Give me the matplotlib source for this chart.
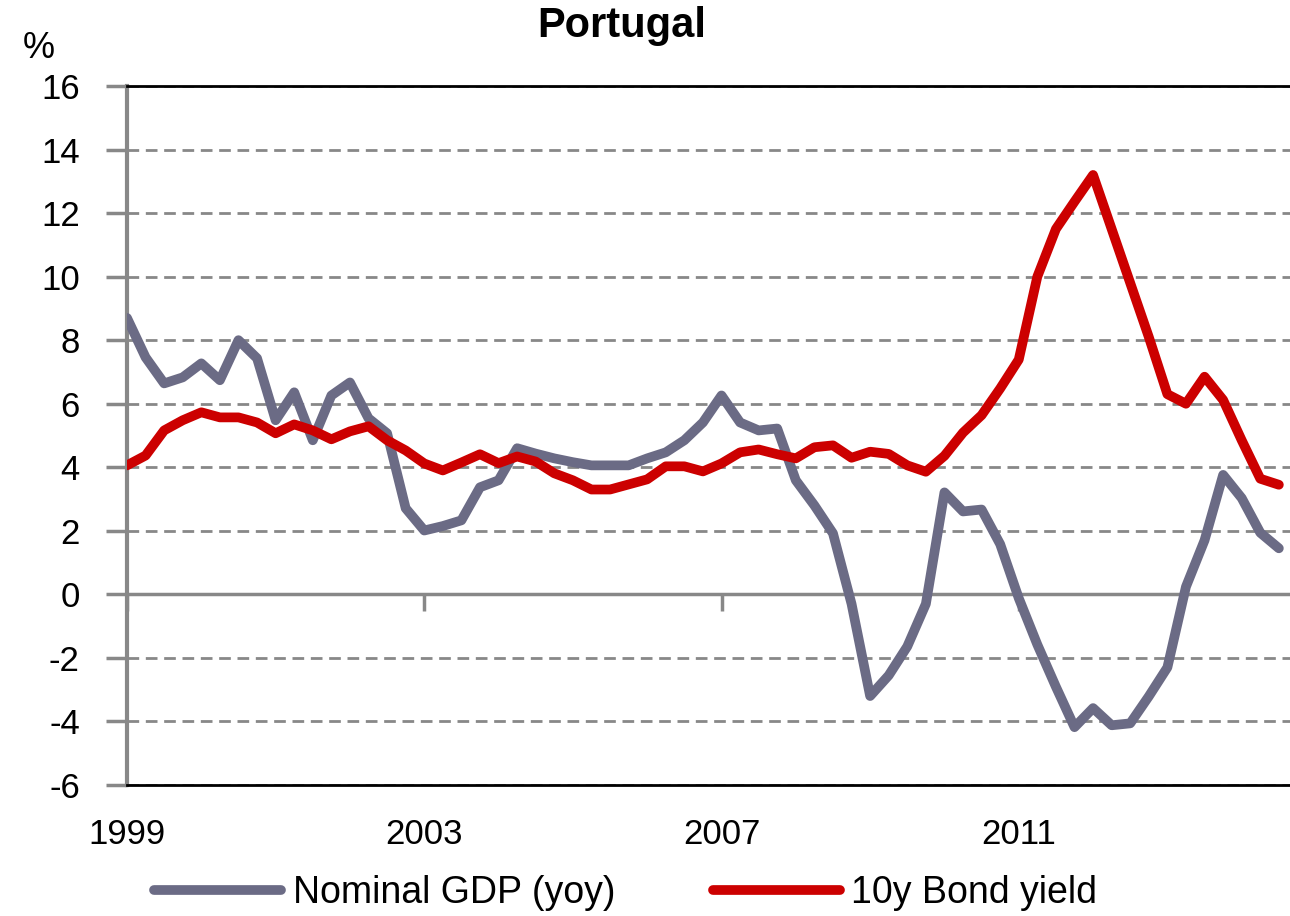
import matplotlib
matplotlib.use("Agg")
from matplotlib import pyplot as plt

# quarterly data, 1999Q1 .. 2014Q3
gdp_yoy = [8.7, 7.46, 6.64, 6.83, 7.27, 6.74, 8.0, 7.43, 5.48, 6.36,
           4.85, 6.26, 6.67, 5.54, 5.07, 2.71, 2.01, 2.15, 2.33, 3.37,
           3.59, 4.6, 4.43, 4.28, 4.16, 4.06, 4.06, 4.06, 4.28, 4.47,
           4.85, 5.41, 6.26, 5.41, 5.16, 5.22, 3.59, 2.8, 1.92, -0.3,
           -3.2, -2.55, -1.64, -0.3, 3.21, 2.61, 2.67, 1.58, -0.12, -1.58,
           -2.91, -4.18, -3.58, -4.12, -4.06, -3.21, -2.3, 0.24, 1.7, 3.76,
           3.03, 1.94, 1.45]
bond_10y = [4.06, 4.37, 5.16, 5.48, 5.73, 5.57, 5.57, 5.41, 5.07, 5.35,
            5.16, 4.88, 5.13, 5.29, 4.85, 4.53, 4.12, 3.9, 4.15, 4.41,
            4.13, 4.34, 4.18, 3.81, 3.59, 3.3, 3.3, 3.46, 3.62, 4.03,
            4.03, 3.87, 4.12, 4.47, 4.56, 4.41, 4.28, 4.63, 4.69, 4.3,
            4.49, 4.42, 4.06, 3.86, 4.36, 5.09, 5.64, 6.48, 7.39, 10.0,
            11.5, 12.36, 13.2, 11.5, 9.8, 8.1, 6.3, 6.0, 6.85, 6.12,
            4.85, 3.64, 3.45]
year_ticks = [0, 16, 32, 48]
year_labels = ['1999', '2003', '2007', '2011']

plt.rcParams['font.family'] = ['Liberation Sans', 'DejaVu Sans']
plt.rcParams['axes.unicode_minus'] = False

gray_line = '#6b6b85'
red_line = '#cc0000'
axis_gray = '#888888'

fig = plt.figure(figsize=(12.9, 9.16), dpi=100)
ax = fig.add_axes([127/1290, 1 - 785/916, 1 - 127/1290, (785 - 86)/916])

q = list(range(len(gdp_yoy)))
ax.plot(q, gdp_yoy, color=gray_line, lw=7, solid_joinstyle='round',
        solid_capstyle='round', label='Nominal GDP (yoy)', zorder=3)
ax.plot(q, bond_10y, color=red_line, lw=7, solid_joinstyle='round',
        solid_capstyle='round', label='10y Bond yield', zorder=4)

ymin, ymax = -6, 16
ax.set_ylim(ymin, ymax)
ax.set_xlim(0, 62.6)
ax.set_yticks(range(-6, 17, 2))
ax.yaxis.grid(True, color=axis_gray, lw=2, dashes=(4.2, 2.4))
ax.set_axisbelow(True)

ax.tick_params(axis='y', direction='out', length=15, width=2.5,
               color=axis_gray, labelsize=25, pad=19)
ax.set_xticks(year_ticks)
ax.set_xticklabels(year_labels)
ax.tick_params(axis='x', length=0, labelsize=25, pad=24)

ax.spines['left'].set_color(axis_gray)
ax.spines['left'].set_linewidth(3)
ax.spines['top'].set_color('black')
ax.spines['top'].set_linewidth(2)
ax.spines['bottom'].set_color('black')
ax.spines['bottom'].set_linewidth(2)
ax.spines['right'].set_visible(False)

# category axis crossing at zero
zero_ax = ax.secondary_xaxis((0 - ymin) / (ymax - ymin))
zero_ax.set_xticks(year_ticks)
zero_ax.tick_params(direction='out', length=12, width=2.5, color=axis_gray,
                    labelbottom=False, labeltop=False)
zero_ax.spines['bottom'].set_color(axis_gray)
zero_ax.spines['bottom'].set_linewidth(2.5)

fig.text(0.482, 0.972, 'Portugal', ha='center', va='center',
         fontsize=30, fontweight='bold')
fig.text(0.03, 0.947, '%', ha='center', va='center', fontsize=26)

fig.legend(loc='center', bbox_to_anchor=(0.485, 0.025), ncol=2,
           frameon=False, fontsize=27, handlelength=3.4, columnspacing=2.6,
           handletextpad=0.3)

fig.savefig('out.png', dpi=100)
